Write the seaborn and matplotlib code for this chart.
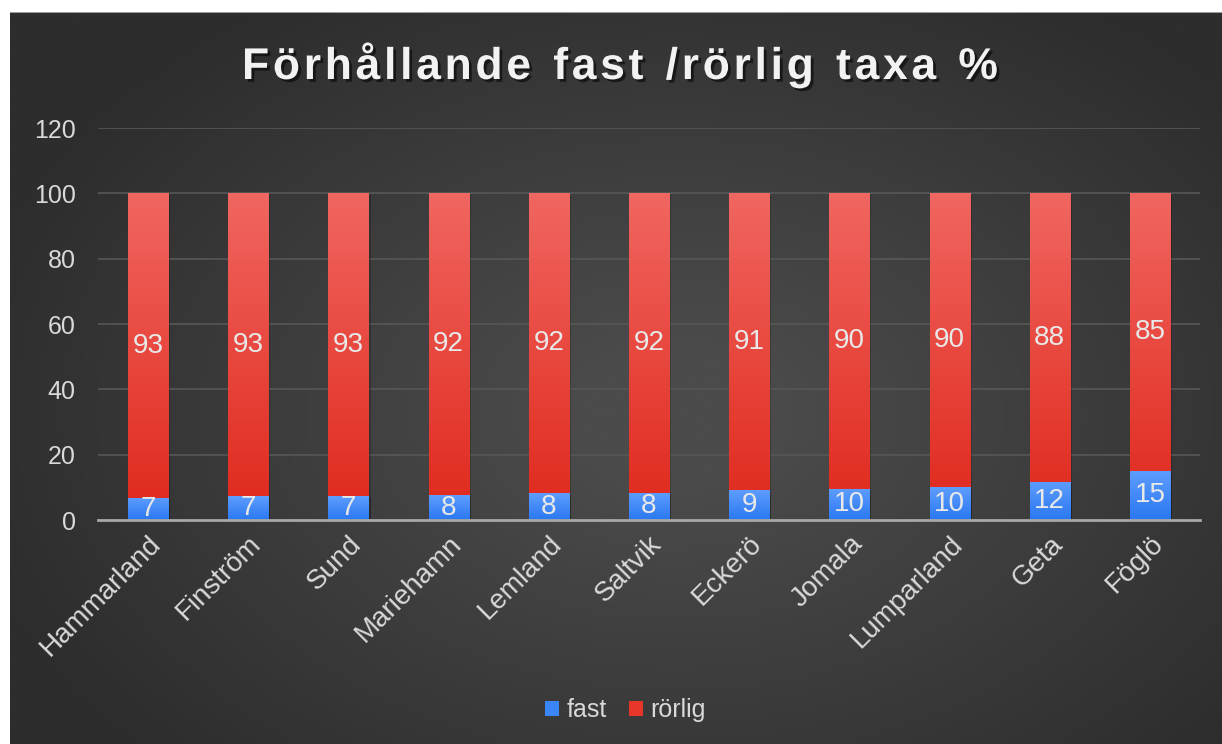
import numpy as np
import pandas as pd
import seaborn as sns
import matplotlib.pyplot as plt
import matplotlib.patheffects as pe
from matplotlib.colors import LinearSegmentedColormap
from matplotlib.patches import Patch

# data
kommuner = ['Hammarland', 'Finström', 'Sund', 'Mariehamn', 'Lemland', 'Saltvik',
            'Eckerö', 'Jomala', 'Lumparland', 'Geta', 'Föglö']
fast = [6.8, 7.2, 7.3, 7.6, 8.2, 8.3, 9.1, 9.6, 10.1, 11.7, 15.1]
rorlig = [93.2, 92.8, 92.7, 92.4, 91.8, 91.7, 90.9, 90.4, 89.9, 88.3, 84.9]
y_ticks = [0, 20, 40, 60, 80, 100, 120]

df = pd.DataFrame({'kommun': kommuner, 'fast': fast, 'rorlig': rorlig})
df['total'] = df['fast'] + df['rorlig']

plt.rcParams['font.family'] = ['Liberation Sans', 'DejaVu Sans']

fig = plt.figure(figsize=(12.22, 7.44), dpi=100)
fig.patch.set_facecolor('white')

# dark panel with radial gradient
bg = fig.add_axes([10 / 1222, 0, 1212 / 1222, 732 / 744])
yy, xx = np.mgrid[0:1:300j, 0:1:500j]
r = np.sqrt(((xx - 0.55) / 0.8) ** 2 + ((yy - 0.55) / 0.9) ** 2)
bg_cmap = LinearSegmentedColormap.from_list('bg', ['#4b4b4b', '#2d2d2d'])
bg.imshow(r, cmap=bg_cmap, aspect='auto', extent=[0, 1, 0, 1], vmin=0.1, vmax=0.75)
bg.axhline(1, color='#9a9a9a', lw=1.5)
bg.set_xlim(0, 1)
bg.set_ylim(0, 1)
bg.axis('off')

ax = fig.add_axes([98 / 1222, 1 - 520 / 744, 1102 / 1222, 392 / 744])
ax.patch.set_alpha(0)

sns.barplot(data=df, x='kommun', y='total', color='#e8372a', width=0.4,
            saturation=1, ax=ax, zorder=3)
sns.barplot(data=df, x='kommun', y='fast', color='#3a86f7', width=0.4,
            saturation=1, ax=ax, zorder=3)

# vertical gradients inside the bars
red_cmap = LinearSegmentedColormap.from_list('r', ['#e0281c', '#f06660'])
blue_cmap = LinearSegmentedColormap.from_list('b', ['#2a78f0', '#5e9dff'])
grad = np.linspace(0, 1, 100).reshape(-1, 1)
n = len(kommuner)
for i, p in enumerate(ax.patches):
    x0, y0 = p.get_x(), p.get_y()
    w, h = p.get_width(), p.get_height()
    cm = red_cmap if i < n else blue_cmap
    im = ax.imshow(grad, cmap=cm, aspect='auto', origin='lower',
                   extent=[x0, x0 + w, y0, y0 + h], zorder=3.5)
    im.set_clip_path(p)
    p.set_edgecolor('none')
    p.set_path_effects([pe.SimplePatchShadow(offset=(1.5, -1), alpha=0.2, shadow_rgbFace='black'),
                        pe.Normal()])

# value labels
for i in range(n):
    ax.text(i, fast[i] / 2, f'{fast[i]:.0f}', ha='center', va='center',
            color='#e8e8e8', fontsize=20, zorder=5)
    ax.text(i, fast[i] + rorlig[i] / 2, f'{rorlig[i]:.0f}', ha='center', va='center',
            color='#e8e8e8', fontsize=20, zorder=5)

ax.set_xlim(-0.5, n - 0.5)
ax.set_ylim(0, 120)
ax.set_yticks(y_ticks)
ax.set_yticklabels([str(t) for t in y_ticks], color='#d9d9d9', fontsize=18)
ax.tick_params(axis='y', length=0, pad=16)
ax.tick_params(axis='x', length=0, pad=8)
ax.set_xticks(range(n))
ax.set_xticklabels(kommuner, rotation=45, ha='right', rotation_mode='anchor',
                   color='#d9d9d9', fontsize=20)
ax.set_xlabel('')
ax.set_ylabel('')
for t in y_ticks[1:]:
    ax.axhline(t, color='#575757', lw=1.2, zorder=1)
for s in ['top', 'right', 'left']:
    ax.spines[s].set_visible(False)
ax.spines['bottom'].set_color('#a8a8a8')
ax.spines['bottom'].set_linewidth(2)
ax.spines['bottom'].set_zorder(6)

# title, letters slightly spread out
title = 'Förhållande fast /rörlig taxa %'
gap = '\u200a'
spread = gap.join(title).replace(gap + ' ' + gap, '\u2002')
fig.text(0.508, 1 - 65 / 744, spread,
         ha='center', va='center', color='#f2f2f2', fontsize=32, fontweight='bold',
         path_effects=[pe.withSimplePatchShadow(offset=(2, -2), alpha=0.55, shadow_rgbFace='black')])

# legend
handles = [Patch(facecolor='#3a86f7', label='fast'), Patch(facecolor='#e8372a', label='rörlig')]
fig.legend(handles=handles, loc='center', bbox_to_anchor=(0.512, 1 - 710 / 744), ncol=2,
           frameon=False, fontsize=18, labelcolor='#d9d9d9', handlelength=0.55,
           handleheight=0.55, handletextpad=0.3, columnspacing=0.9)

plt.savefig('out.png', dpi=100)
